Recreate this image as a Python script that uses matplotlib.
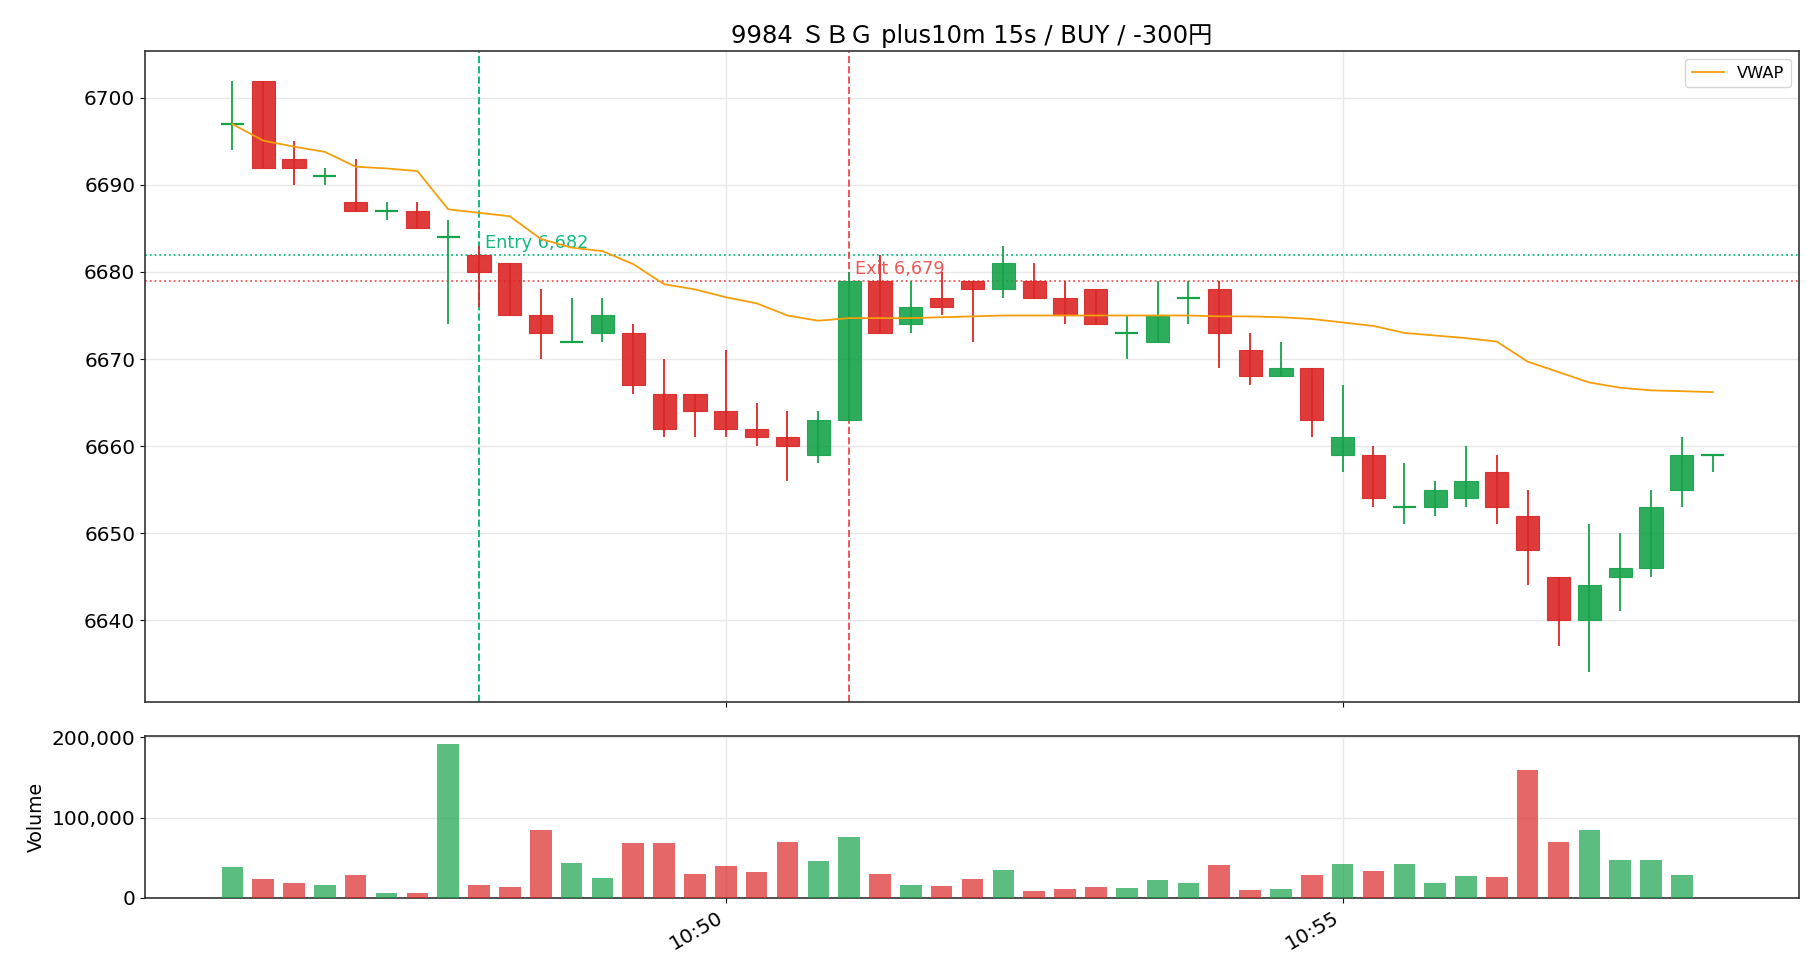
import datetime as dt
import matplotlib
matplotlib.use('Agg')
import matplotlib.pyplot as plt
import matplotlib.dates as mdates
import matplotlib.ticker as mticker

plt.rcParams['font.family'] = ['DejaVu Sans', 'Noto Sans CJK JP']

# ── DATA (15s bars, 10:46:00 - 10:58:00) ───────────────────
opens  = [6697, 6702, 6693, 6691, 6688, 6687, 6687, 6684, 6682, 6681,
          6675, 6672, 6673, 6673, 6666, 6666, 6664, 6662, 6661, 6659,
          6663, 6679, 6674, 6677, 6679, 6678, 6679, 6677, 6678, 6673,
          6672, 6677, 6678, 6671, 6668, 6669, 6659, 6659, 6653, 6653,
          6654, 6657, 6652, 6645, 6640, 6645, 6646, 6655, 6659]
highs  = [6702, 6702, 6695, 6692, 6693, 6688, 6688, 6686, 6683, 6681,
          6678, 6677, 6677, 6674, 6670, 6666, 6671, 6665, 6664, 6664,
          6680, 6682, 6679, 6680, 6679, 6683, 6681, 6679, 6678, 6675,
          6679, 6679, 6679, 6673, 6672, 6669, 6667, 6660, 6658, 6656,
          6660, 6659, 6655, 6645, 6651, 6650, 6655, 6661, 6659]
lows   = [6694, 6692, 6690, 6690, 6687, 6686, 6685, 6674, 6676, 6675,
          6670, 6672, 6672, 6666, 6661, 6661, 6661, 6660, 6656, 6658,
          6663, 6673, 6673, 6675, 6672, 6677, 6677, 6674, 6674, 6670,
          6672, 6674, 6669, 6667, 6668, 6661, 6657, 6653, 6651, 6652,
          6653, 6651, 6644, 6637, 6634, 6641, 6645, 6653, 6657]
closes = [6697, 6692, 6692, 6691, 6687, 6687, 6685, 6684, 6680, 6675,
          6673, 6672, 6675, 6667, 6662, 6664, 6662, 6661, 6660, 6663,
          6679, 6673, 6676, 6676, 6678, 6681, 6677, 6675, 6674, 6673,
          6675, 6677, 6673, 6668, 6669, 6663, 6661, 6654, 6653, 6655,
          6656, 6653, 6648, 6640, 6644, 6646, 6653, 6659, 6659]
volumes = [38000, 23000, 19000, 16500, 29000, 6600, 6600, 192000, 16500, 14000,
           84700, 43800, 25200, 68600, 68600, 30000, 40000, 32600, 69800, 46300,
           76000, 30000, 16500, 15300, 24000, 35000, 9000, 11600, 14000, 12800,
           22700, 19000, 41300, 10300, 11600, 29000, 42600, 34000, 42600, 19000,
           27700, 26400, 159000, 69800, 84700, 47500, 47500, 29000, 500]
vwap = [6697.0, 6695.1, 6694.4, 6693.8, 6692.1, 6691.9, 6691.6, 6687.2, 6686.8, 6686.4,
        6683.8, 6682.8, 6682.4, 6680.9, 6678.6, 6678.0, 6677.1, 6676.4, 6675.0, 6674.4,
        6674.7, 6674.7, 6674.7, 6674.8, 6674.9, 6675.0, 6675.0, 6675.0, 6675.0, 6675.0,
        6675.0, 6675.0, 6674.9, 6674.9, 6674.8, 6674.6, 6674.2, 6673.8, 6673.0, 6672.7,
        6672.4, 6672.0, 6669.7, 6668.5, 6667.3, 6666.7, 6666.4, 6666.3, 6666.2]

start = dt.datetime(2024, 1, 1, 10, 46, 0)
times = [start + dt.timedelta(seconds=15 * i) for i in range(len(opens))]
entry_time, entry_price = dt.datetime(2024, 1, 1, 10, 48, 0), 6682
exit_time, exit_price = dt.datetime(2024, 1, 1, 10, 51, 0), 6679
title = '9984 ＳＢＧ plus10m 15s / BUY / -300円'

# ── STYLE ──────────────────────────────────────────────────
UP     = '#16a34a'
DOWN   = '#dc2626'
ENTRY  = '#10b981'
EXIT_C = '#ef4444'
VWAP_C = '#f59e0b'
TICK_FS = 14.5

x = mdates.date2num(times)
step = 15 / 86400
body_w = step * 0.75
vol_w = step * 0.7

fig = plt.figure(figsize=(18.2, 9.8), dpi=100)
gs = fig.add_gridspec(2, 1, height_ratios=[651, 162], hspace=0.084,
                      left=0.0797, right=0.9885, top=0.948, bottom=0.0837)
ax = fig.add_subplot(gs[0])
axv = fig.add_subplot(gs[1], sharex=ax)

for xi, o, h, l, c in zip(x, opens, highs, lows, closes):
    col = UP if c >= o else DOWN
    ax.vlines(xi, l, h, color=col, linewidth=1.3, zorder=3)
    body_h = abs(c - o)
    if body_h == 0:
        ax.hlines(o, xi - body_w / 2, xi + body_w / 2, color=col, linewidth=1.6, zorder=3)
    else:
        ax.bar(xi, body_h, bottom=min(o, c), width=body_w, color=col,
               edgecolor=col, alpha=0.9, linewidth=0.8, zorder=3)

ax.plot(x, vwap, color=VWAP_C, linewidth=1.3, label='VWAP', zorder=4)

ax.axvline(entry_time, color=ENTRY, linestyle='--', linewidth=1.4, zorder=2)
ax.axhline(entry_price, color=ENTRY, linestyle=':', linewidth=1.3, zorder=2)
ax.text(mdates.date2num(entry_time) + step * 0.2, entry_price + 0.3,
        f'Entry {entry_price:,}', color=ENTRY, fontsize=12.7, va='bottom', ha='left')
ax.axvline(exit_time, color=EXIT_C, linestyle='--', linewidth=1.4, alpha=0.9, zorder=2)
ax.axhline(exit_price, color=EXIT_C, linestyle=':', linewidth=1.3, alpha=0.9, zorder=2)
ax.text(mdates.date2num(exit_time) + step * 0.2, exit_price + 0.3,
        f'Exit {exit_price:,}', color=EXIT_C, fontsize=12.7, va='bottom', ha='left', alpha=0.9)

ax.set_title(title, fontsize=17.5)
ax.grid(True, color='#e8e8e8', linewidth=1)
ax.set_axisbelow(True)
ax.legend(loc='upper right', fontsize=11.7)
ax.tick_params(labelbottom=False, labelsize=TICK_FS)
ax.yaxis.set_major_locator(mticker.MultipleLocator(10))

vcols = [UP if c >= o else DOWN for o, c in zip(opens, closes)]
axv.bar(x, volumes, width=vol_w, color=vcols, alpha=0.7, zorder=3)
axv.set_ylabel('Volume', fontsize=13.6)
axv.yaxis.set_major_locator(mticker.MultipleLocator(100000))
axv.yaxis.set_major_formatter(mticker.FuncFormatter(lambda v, p: f'{int(v):,}'))
axv.grid(True, color='#e8e8e8', linewidth=1)
axv.set_axisbelow(True)
axv.tick_params(labelsize=TICK_FS)

ax.set_xlim(x[0] - step * 2.83, x[-1] + step * 2.8)
axv.xaxis.set_major_locator(mdates.MinuteLocator(byminute=range(0, 60, 5)))
axv.xaxis.set_major_formatter(mdates.DateFormatter('%H:%M'))
for lbl in axv.get_xticklabels():
    lbl.set_rotation(30)
    lbl.set_ha('right')

for a in (ax, axv):
    for s in a.spines.values():
        s.set_color('#333333')
        s.set_linewidth(1.2)

fig.savefig('out.png', dpi=100, facecolor='white')
